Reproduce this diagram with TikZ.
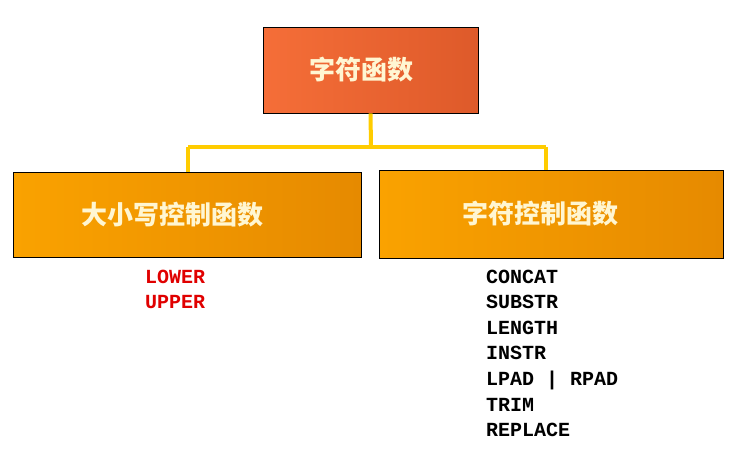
\documentclass[tikz,border=0pt]{standalone}
\usepackage{fontspec}
\setmonofont{Liberation Mono}
\newfontfamily\cjk{Noto Sans CJK SC}
\definecolor{topA}{HTML}{F56E38}
\definecolor{topB}{HTML}{DE5A2A}
\definecolor{subA}{HTML}{FAA200}
\definecolor{subB}{HTML}{E68A00}
\definecolor{connC}{HTML}{FFCC00}
\definecolor{cream}{HTML}{FFF6D2}
\definecolor{redtxt}{HTML}{E00000}
\tikzset{
  boxbase/.style={draw=black, line width=0.9pt, inner sep=0pt, text=cream,
    font=\cjk\bfseries\fontsize{26}{30}\selectfont},
  topbox/.style={boxbase, left color=topA, right color=topB},
  subbox/.style={boxbase, left color=subA, right color=subB},
  conn/.style={draw=connC, line width=4pt},
  codelist/.style={font=\ttfamily\bfseries\fontsize{20}{25.6}\selectfont, align=left, inner sep=0pt, anchor=north west}
}
\begin{document}
\begin{tikzpicture}[x=1pt,y=-1pt]
\useasboundingbox (0,0) rectangle (750,464);
\node[topbox, minimum width=215pt, minimum height=86pt] (top) at (370.5,70) {字符函数\kern19pt\relax};
\node[subbox, minimum width=348pt, minimum height=85pt] (left) at (187,214.5) {大小写控制函数\kern30pt\relax};
\node[subbox, minimum width=344pt, minimum height=88pt] (right) at (551,214) {字符控制函数\kern22pt\relax};
\coordinate (jn) at (371,147);
\coordinate (rj) at (546,147);
\coordinate (lj) at (188,147);
\draw[conn] (top.south) -- (jn);
\draw[conn] (lj) -- (rj);
\draw[conn] (lj) -- (lj |- left.north);
\draw[conn] (rj) -- (rj |- right.north);
\node[codelist, text=redtxt] (caselist) at (145,269.5) {LOWER\\UPPER};
\node[codelist, text=black] (charlist) at (486,269.5) {CONCAT\\SUBSTR\\LENGTH\\INSTR\\LPAD | RPAD\\TRIM\\REPLACE};
\end{tikzpicture}
\end{document}
